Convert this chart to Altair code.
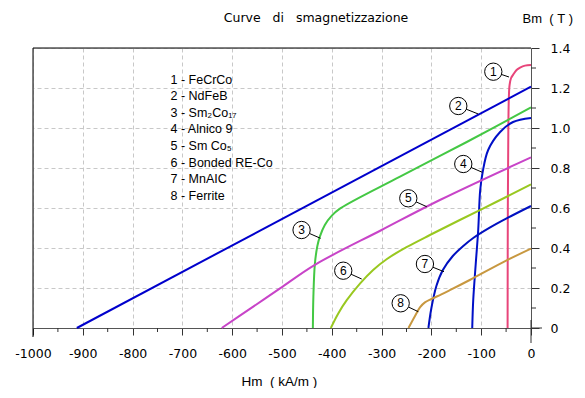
import altair as alt
import pandas as pd

# ---- data (H in kA/m, B in T) ----
names = ["1", "2", "3", "4", "5", "6", "7", "8"]
colors = ["#e8457a", "#0000cc", "#44c844", "#0010c8", "#c844c8", "#99c820", "#0010c0", "#c89840"]

H1 = [-47, -46.5, -45.5, -44.5, -43, -40, -35.5, -29, -22, -12, 0]
B1 = [0, 0.6, 1.0, 1.15, 1.215, 1.25, 1.268, 1.29, 1.302, 1.312, 1.315]
H2 = [-912, 0]
B2 = [0, 1.207]
H3 = [-438, -437, -434, -429, -424, -414, -400, -383, -263, -129, 0]
B3 = [0, 0.157, 0.32, 0.41, 0.457, 0.515, 0.562, 0.598, 0.757, 0.93, 1.103]
H4 = [-118, -116, -111, -106, -102, -97, -86, -62, -36, 0]
B4 = [0, 0.14, 0.32, 0.49, 0.69, 0.78, 0.89, 0.98, 1.03, 1.05]
H5 = [-621, -560, -504, -434, -300, -183, 0]
B5 = [0, 0.103, 0.198, 0.316, 0.49, 0.64, 0.853]
H6 = [-402, -387, -370, -343, -317, -290, -250, -203, -143, -70, 0]
B6 = [0, 0.073, 0.139, 0.223, 0.29, 0.344, 0.404, 0.465, 0.54, 0.63, 0.718]
H7 = [-206, -200, -190, -177, -157, -136, -116, -82, -49, 0]
B7 = [0, 0.1, 0.21, 0.29, 0.36, 0.41, 0.45, 0.503, 0.548, 0.61]
H8 = [-246, -234, -223, -213, -200, -180, -163, -123, -49, 0]
B8 = [0, 0.055, 0.103, 0.128, 0.145, 0.168, 0.189, 0.24, 0.338, 0.397]

# circled labels and where their leader lines touch the curves
lab_H = [-75.7, -146, -460.7, -136, -246.4, -377, -213, -261.7]
lab_B = [1.2815, 1.11, 0.49, 0.82, 0.6485, 0.2865, 0.32, 0.1235]
lead_H = [-44.2, -105.8, -422.6, -97.8, -209.4, -340, -174.7, -226.3]
lead_B = [1.255, 1.07, 0.4485, 0.7785, 0.6065, 0.245, 0.2815, 0.0815]

legend_lines = ["1 - FeCrCo", "2 - NdFeB", "3 - Sm\u2082Co\u2081\u2087", "4 - Alnico 9",
                "5 - Sm Co\u2085", "6 - Bonded RE-Co", "7 - MnAIC", "8 - Ferrite"]

NB = "\u00a0"
title_str = "Curve" + NB * 3 + "di" + NB * 3 + "smagnetizzazione"
x_title = "Hm" + NB * 2 + "(" + NB + "kA/m" + NB + ")"
y_title = "Bm" + NB * 2 + "(" + NB + "T" + NB + ")"

x_ticks = list(range(-1000, 1, 100))
x_minor = list(range(-950, 0, 100))
y_ticks = [0, 0.2, 0.4, 0.6, 0.8, 1.0, 1.2, 1.4]
y_minor = [0.1, 0.3, 0.5, 0.7, 0.9, 1.1, 1.3]

# ---- tables ----
rows = []
for n, hs, bs in zip(names, [H1, H2, H3, H4, H5, H6, H7, H8], [B1, B2, B3, B4, B5, B6, B7, B8]):
    for i, (h, b) in enumerate(zip(hs, bs)):
        rows.append({"curve": n, "H": h, "B": b, "i": i})
df = pd.DataFrame(rows)
lab = pd.DataFrame({"n": names, "H": lab_H, "B": lab_B, "H2": lead_H, "B2": lead_B})
xm = pd.DataFrame({"H": x_minor})
ym = pd.DataFrame({"B": y_minor})
one = pd.DataFrame({"a": [0]})

W, Hh = 498, 280
xs = alt.Scale(domain=[-1000, 0], nice=False, zero=False)
ys = alt.Scale(domain=[0, 1.4], nice=False, zero=False)

x_axis = alt.Axis(values=x_ticks, labelExpr="datum.value + ''", labelFont="DejaVu Sans",
                  labelFontSize=12.5, labelColor="#000", labelPadding=12, labelFlush=False,
                  labelOverlap=False, tickSize=7, tickColor="#333", domainColor="#555",
                  grid=True, gridColor="#c8c8c8", gridDash=[4, 3],
                  title=x_title, titleFont="Liberation Sans", titleFontSize=13.5,
                  titleFontWeight="normal", titleColor="#000", titleX=208, titleY=53,
                  titleAlign="left", titleBaseline="middle")
y_axis = alt.Axis(orient="right", values=y_ticks,
                  labelExpr="datum.value == 0 ? '0' : format(datum.value, '.1f')",
                  labelFont="DejaVu Sans", labelFontSize=12.5, labelColor="#000",
                  labelPadding=11, labelFlush=False, labelOverlap=False, tickSize=8,
                  tickColor="#333", domainColor="#555", grid=True, gridColor="#c8c8c8",
                  gridDash=[4, 3], title=y_title, titleFont="Liberation Sans",
                  titleFontSize=13, titleFontWeight="normal", titleColor="#000",
                  titleAngle=0, titleX=-9, titleY=-30, titleAlign="left",
                  titleBaseline="middle")


def X(f):
    return alt.X(f, scale=xs, axis=x_axis)


def Y(f):
    return alt.Y(f, scale=ys, axis=y_axis)


curves = alt.Chart(df).mark_line(strokeWidth=2, interpolate="catmull-rom").encode(
    x=X("H:Q"),
    y=Y("B:Q"),
    color=alt.Color("curve:N", scale=alt.Scale(domain=names, range=colors), legend=None),
    detail="curve:N",
    order="i:Q",
)

xminor = alt.Chart(xm).mark_rule(color="#333", strokeWidth=1).encode(
    x=X("H:Q"), y=alt.value(Hh), y2=alt.value(Hh + 4))
yminor = alt.Chart(ym).mark_rule(color="#333", strokeWidth=1).encode(
    y=Y("B:Q"), x=alt.value(W), x2=alt.value(W + 5))

frame_top = alt.Chart(one).mark_rule(color="#000", strokeWidth=1).encode(
    x=alt.value(0), x2=alt.value(W), y=alt.value(0))
frame_left = alt.Chart(one).mark_rule(color="#000", strokeWidth=1).encode(
    x=alt.value(0), y=alt.value(0), y2=alt.value(Hh + 9))
zero_v = alt.Chart(one).mark_rule(color="#333", strokeWidth=1).encode(
    x=alt.value(W), y=alt.value(Hh - 8), y2=alt.value(Hh + 15))
zero_h = alt.Chart(one).mark_rule(color="#333", strokeWidth=1).encode(
    y=alt.value(Hh), x=alt.value(W), x2=alt.value(W + 11))

leaders = alt.Chart(lab).mark_rule(color="#000", strokeWidth=1).encode(
    x=X("H:Q"), x2="H2:Q", y=Y("B:Q"), y2="B2:Q")
circles = alt.Chart(lab).mark_point(shape="circle", filled=True, fill="#fff", stroke="#000",
                                     strokeWidth=1, size=300, opacity=1).encode(
    x=X("H:Q"), y=Y("B:Q"))
numbers = alt.Chart(lab).mark_text(font="Liberation Sans", fontSize=12, color="#000",
                                    align="center", baseline="middle").encode(
    x=X("H:Q"), y=Y("B:Q"), text="n:N")

legend_text = alt.Chart(one).mark_text(
    font="Liberation Sans", fontSize=12.5, color="#000", align="left", baseline="top",
    lineHeight=16.6).encode(x=alt.value(137.5), y=alt.value(25.5), text=alt.value(legend_lines))

title_text = alt.Chart(one).mark_text(
    font="DejaVu Sans", fontSize=12.5, color="#000", align="center", baseline="middle").encode(
    x=alt.value(283), y=alt.value(-30), text=alt.value(title_str))

chart = alt.layer(
    curves, xminor, yminor, frame_top, frame_left, zero_v, zero_h,
    leaders, circles, numbers, legend_text, title_text
).properties(
    width=W, height=Hh,
    autosize=alt.AutoSizeParams(type="none"),
    padding={"left": 25, "top": 40, "right": 44, "bottom": 60},
).configure_view(stroke=None).configure(background="#ffffff")

chart.save("out.html", embed_options={"renderer": "svg", "actions": False})
